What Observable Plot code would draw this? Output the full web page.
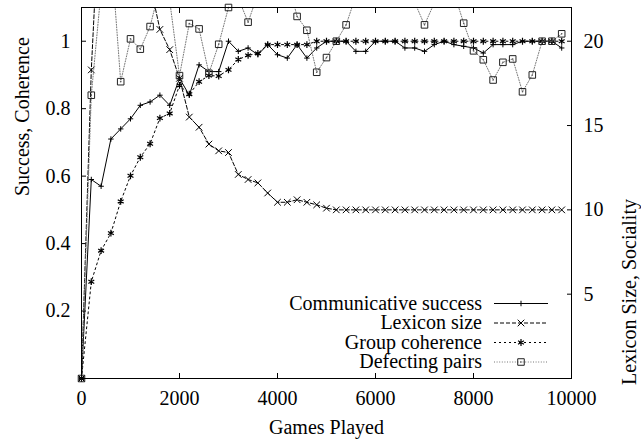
<!DOCTYPE html>
<html>
<head>
<meta charset="utf-8">
<script src="https://cdn.jsdelivr.net/npm/d3@7"></script>
<script src="https://cdn.jsdelivr.net/npm/@observablehq/plot@0.6"></script>
<style>
  html, body { margin: 0; padding: 0; background: white; }
  #chart svg, #chart svg text { font-family: "Liberation Serif", "Times New Roman", Times, serif !important; }
</style>
</head>
<body>
<div id="chart"></div>
<script>
// ---- data ----
const games = [0,200,400,600,800,1000,1200,1400,1600,1800,2000,2200,2400,2600,2800,3000,3200,3400,3600,3800,
  4000,4200,4400,4600,4800,5000,5200,5400,5600,5800,6000,6200,6400,6600,6800,7000,7200,7400,7600,7800,
  8000,8200,8400,8600,8800,9000,9200,9400,9600,9800];

// left axis (Success, Coherence)
const success = [0,0.59,0.57,0.71,0.74,0.77,0.81,0.82,0.84,0.81,0.89,0.84,0.93,0.91,0.91,1.0,0.97,0.98,0.96,0.99,
  0.96,0.95,0.99,0.95,0.98,1.0,1.0,1.0,0.97,0.97,1.0,1.0,1.0,0.98,0.98,0.97,0.99,1.0,0.99,0.985,
  0.98,0.965,0.99,0.99,0.99,1.0,1.0,1.0,1.0,0.98];
const coherence = [0,0.287,0.379,0.431,0.525,0.601,0.656,0.696,0.772,0.786,0.869,0.843,0.88,0.898,0.897,0.915,0.946,0.958,0.964,0.99,
  0.99,0.99,0.99,0.99,1.0,1.0,1.0,1.0,1.0,1.0,1.0,1.0,1.0,1.0,1.0,1.0,1.0,1.0,1.0,1.0,
  1.0,1.0,1.0,1.0,1.0,1.0,1.0,1.0,1.0,1.0];

// right axis (Lexicon Size, Sociality)
const lexicon = [0,18.3,30,29,28,27,25.5,23.4,20.7,19.5,17.8,15.5,14.9,13.9,13.5,13.4,12.1,11.8,11.6,11.0,
  10.45,10.45,10.6,10.45,10.3,10.1,10,10,10,10,10,10,10,10,10,10,10,10,10,10,
  10,10,10,10,10,10,10,10,10,10];
const defecting = [0,16.8,23,25.4,17.6,20.14,19.53,20.87,23.2,22.4,17.96,21.05,20.73,18.1,19.82,22.0,22.55,21.13,22.8,24.1,
  24.3,23.7,21.47,20.65,18.16,19.03,20.0,20.97,22.7,24.5,25,23.8,24.2,23.5,22.3,20.97,22.27,23.1,22.9,21.07,
  19.43,18.9,17.7,18.75,18.95,17.0,18.0,20.0,20.0,20.44];

const xTicks = [0,2000,4000,6000,8000,10000];
const leftTicks = [0.2,0.4,0.6,0.8,1];
const rightTicks = [5,10,15,20];
const leftMax = 1.1;
const rightMax = 22;
const ratio = rightMax / leftMax;

const seriesNames = ["Communicative success","Lexicon size","Group coherence","Defecting pairs"];
const xTitle = "Games Played";
const yTitle = "Success, Coherence";
const y2Title = "Lexicon Size, Sociality";

const FONT = "'Liberation Serif', 'Times New Roman', Times, serif";

// ---- styles ----
const styles = [
  {symbol: "plus", r: 1.9, dash: null, color: "#000", markColor: "#000", sw: 1},
  {symbol: "times", r: 3.1, dash: "4,2", color: "#000", markColor: "#000", sw: 1},
  {symbol: "asterisk", r: 3.2, dash: "2,3", color: "#000", markColor: "#000", sw: 1.2},
  {symbol: "square", r: 3.7, dash: "1,1.6", color: "#777", markColor: "#222", sw: 1}
];

const toRows = (vals, scale) => games.map((g, i) => ({g, v: vals[i], y: vals[i] / scale}));
const series = [
  toRows(success, 1),
  toRows(lexicon, ratio),
  toRows(coherence, 1),
  toRows(defecting, ratio)
];

const seriesMarks = [];
series.forEach((rows, k) => {
  const s = styles[k];
  seriesMarks.push(Plot.line(rows, {x: "g", y: "y", stroke: s.color, strokeWidth: 1, strokeDasharray: s.dash, clip: true}));
  seriesMarks.push(Plot.dot(rows, {x: "g", y: "y", symbol: s.symbol, r: s.r, stroke: s.markColor, strokeWidth: s.sw, fill: "none", filter: d => d.y <= leftMax + 1e-9}));
  if (s.symbol === "square") {
    seriesMarks.push(Plot.dot(rows, {x: "g", y: "y", r: 0.8, fill: "#555", stroke: null, filter: d => d.y <= leftMax + 1e-9}));
  }
});

const chart = Plot.plot({
  width: 641,
  height: 441,
  marginTop: 7,
  marginRight: 70,
  marginBottom: 63,
  marginLeft: 81,
  style: {fontFamily: FONT, fontSize: "20px", background: "white", color: "black"},
  x: {domain: [0, 10000]},
  y: {domain: [0, leftMax]},
  marks: [
    Plot.axisX({ticks: xTicks, tickSize: -5, tickPadding: 17, tickFormat: d => String(d), label: null}),
    Plot.axisX({anchor: "top", ticks: xTicks, tickSize: -5, tickFormat: () => "", label: null}),
    Plot.axisY({ticks: leftTicks, tickSize: -5, tickPadding: 16, tickFormat: d => String(d), label: null}),
    Plot.axisY({anchor: "right", ticks: rightTicks.map(v => v / ratio), tickSize: -5, tickPadding: 17, tickFormat: d => String(Math.round(d * ratio)), label: null}),
    ...seriesMarks,
    Plot.frame({stroke: "black", strokeWidth: 1}),
    Plot.text([xTitle], {text: d => d, frameAnchor: "bottom", dy: 55, lineAnchor: "bottom"}),
    Plot.text([yTitle], {text: d => d, frameAnchor: "left", rotate: -90, dx: -53, dy: 3, lineAnchor: "bottom"}),
    Plot.text([y2Title], {text: d => d, frameAnchor: "right", rotate: -90, dx: 64, dy: 6, lineAnchor: "bottom"})
  ]
});

// ---- legend (gnuplot-style key) ----
const symMap = {plus: d3.symbolPlus, times: d3.symbolTimes, asterisk: d3.symbolAsterisk, square: d3.symbolSquare};
const svg = d3.select(chart);
const lg = svg.append("g").attr("class", "legend").style("font-family", FONT).style("font-size", "20px");
const legendTextX = 482, legendX1 = 494, legendX2 = 548, legendMarkX = 521, legendTop = 303.5, legendStep = 19.5;
seriesNames.forEach((name, i) => {
  const s = styles[i];
  const y = legendTop + i * legendStep;
  lg.append("text").attr("x", legendTextX).attr("y", y).attr("dy", "0.32em").attr("text-anchor", "end")
    .attr("fill", "black").text(name);
  lg.append("line").attr("x1", legendX1).attr("x2", legendX2).attr("y1", y).attr("y2", y)
    .attr("stroke", s.color).attr("stroke-width", 1).attr("stroke-dasharray", s.dash);
  lg.append("path").attr("transform", `translate(${legendMarkX},${y})`)
    .attr("d", d3.symbol(symMap[s.symbol], s.r * s.r * Math.PI)())
    .attr("fill", "none").attr("stroke", s.markColor).attr("stroke-width", s.sw);
  if (s.symbol === "square") {
    lg.append("circle").attr("cx", legendMarkX).attr("cy", y).attr("r", 0.8).attr("fill", "#555");
  }
});

document.getElementById("chart").appendChild(chart);
</script>
</body>
</html>
